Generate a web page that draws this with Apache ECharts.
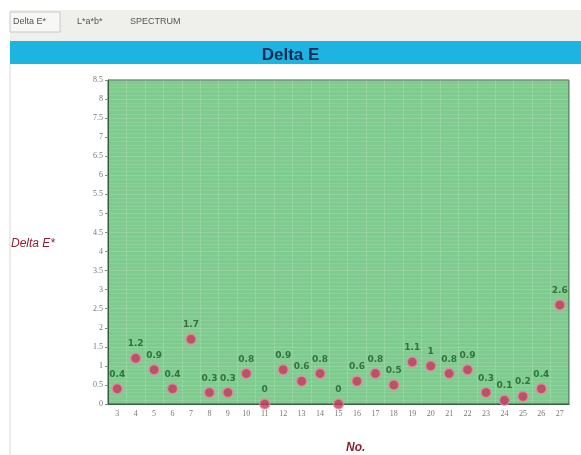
<!DOCTYPE html>
<html>
<head>
<meta charset="utf-8">
<script src="https://cdn.jsdelivr.net/npm/echarts@6/dist/echarts.min.js"></script>
<style>html,body{margin:0;padding:0;background:#fff;}#c{width:581px;height:455px;}</style>
</head>
<body>
<div id="c"></div>
<script>
const categories = ['3','4','5','6','7','8','9','10','11','12','13','14','15','16','17','18','19','20','21','22','23','24','25','26','27'];
const deltaE = [0.4,1.2,0.9,0.4,1.7,0.3,0.3,0.8,0,0.9,0.6,0.8,0,0.6,0.8,0.5,1.1,1,0.8,0.9,0.3,0.1,0.2,0.4,2.6];
const tabs = ['Delta E*','L*a*b*','SPECTRUM'];
const chartTitle = 'Delta E';
const yName = 'Delta E*';
const xName = 'No.';

const chart = echarts.init(document.getElementById('c'));
chart.setOption({
  animation: false,
  backgroundColor: '#ffffff',
  title: {
    text: chartTitle, left: 'center', top: 42,
    textStyle: {color: '#0b2a55', fontSize: 17, fontWeight: 'bold', fontFamily: 'Liberation Sans, Arial'}
  },
  graphic: [
    {type:'rect', shape:{x:10,y:10,width:571,height:31}, style:{fill:'#efefeb'}, z:-10},
    {type:'rect', shape:{x:10,y:12,width:50,height:20}, style:{fill:'#f7f7f5',stroke:'#c8c8c8',lineWidth:1}, z:-9},
    {type:'text', left:13, top:17, style:{text:tabs[0], fill:'#555', fontSize:9, fontFamily:'Liberation Sans'}},
    {type:'text', left:77, top:17, style:{text:tabs[1], fill:'#555', fontSize:9, fontFamily:'Liberation Sans'}},
    {type:'text', left:130, top:17, style:{text:tabs[2], fill:'#555', fontSize:9, fontFamily:'Liberation Sans'}},
    {type:'rect', shape:{x:10,y:41,width:571,height:23}, style:{fill:'#1db4e2'}, z:-8},
    {type:'line', shape:{x1:10,y1:64,x2:10,y2:455}, style:{stroke:'#d8d8d8',lineWidth:1}},
    {type:'text', left:11, top:238, style:{text:yName, fill:'#8a2233', fontSize:12, fontStyle:'italic', fontFamily:'Liberation Sans'}},
    {type:'text', left:346, top:442, style:{text:xName, fill:'#8a2233', fontSize:12, fontStyle:'italic', fontWeight:'bold', fontFamily:'Liberation Sans'}}
  ],
  grid: {left:108, right:12, top:80, bottom:51, show:true, backgroundColor:'#80cc90', borderColor:'#3a5a40', borderWidth:1},
  xAxis: {
    type:'category', data: categories, boundaryGap:true,
    axisLine:{lineStyle:{color:'#3a5a40'}},
    axisTick:{show:false},
    axisLabel:{color:'#777', fontSize:8, margin:6, fontFamily:'Liberation Serif'},
    splitLine:{show:true, lineStyle:{color:'rgba(255,255,255,0.15)', width:1}}
  },
  yAxis: {
    type:'value', min:0, max:8.5, interval:0.5,
    axisLine:{show:true, lineStyle:{color:'#3a5a40'}},
    axisTick:{show:true, length:3, lineStyle:{color:'#888'}},
    axisLabel:{color:'#777', fontSize:8, margin:5, fontFamily:'Liberation Serif'},
    splitLine:{show:true, lineStyle:{color:'rgba(255,255,255,0.15)'}},
    minorTick:{show:false, splitNumber:5},
    minorSplitLine:{show:true, lineStyle:{color:'rgba(255,255,255,0.08)'}}
  },
  series: [{
    type:'scatter', data: deltaE, symbolSize:10,
    itemStyle:{color:'#c8325c', borderColor:'#e88aa0', borderWidth:1.5},
    label:{show:true, position:'top', distance:4, color:'#1e5a28', fontSize:9, fontWeight:'bold', fontFamily:'DejaVu Sans'}
  }]
});
</script>
</body>
</html>
